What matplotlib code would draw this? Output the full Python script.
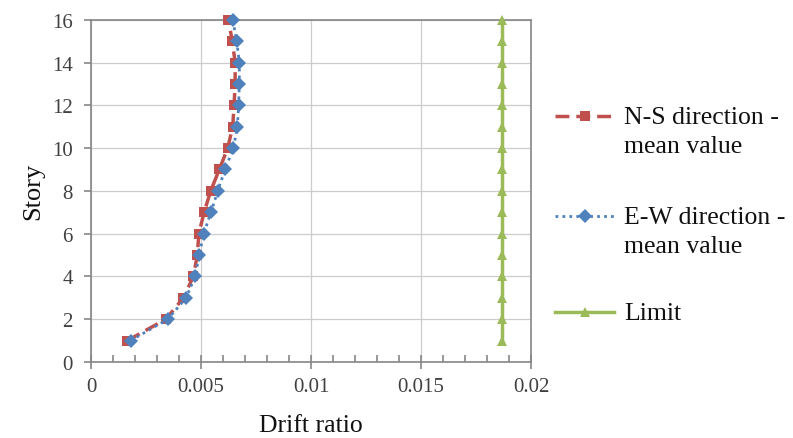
import matplotlib.pyplot as plt
from matplotlib.lines import Line2D
import numpy as np

# story numbers and mean inter-story drift ratios
STORIES = np.arange(1, 17)
NS_DRIFT = [0.00165, 0.0034, 0.0042, 0.00465, 0.00483, 0.00490, 0.00514, 0.00544,
            0.00583, 0.00621, 0.00644, 0.00650, 0.00655, 0.00655, 0.00642, 0.00624]
EW_DRIFT = [0.00180, 0.00349, 0.00432, 0.00473, 0.00492, 0.00512, 0.00545, 0.00576,
            0.00609, 0.00647, 0.00665, 0.00671, 0.00674, 0.00674, 0.00662, 0.00644]
LIMIT = [0.0187] * 16

X_TICKS = [0, 0.005, 0.01, 0.015, 0.02]
X_TICKLABELS = ["0", "0.005", "0.01", "0.015", "0.02"]
X_MINOR = np.arange(0, 21) / 1000
Y_TICKS = list(range(0, 17, 2))

LABELS = ["N-S direction -\nmean value", "E-W direction -\nmean value", "Limit"]

# COLORS
NS_COLOR = "#C0504D"  # RED
EW_COLOR = "#4F81BD"  # BLUE
LIM_COLOR = "#9BBB59"  # GREEN
AXIS_COLOR = "#868686"
GRID_COLOR = "#CCCCCC"

FONT = "Liberation Serif"


def main():
    plt.rcParams["font.family"] = FONT
    fig = plt.figure(figsize=(7.93, 4.39), dpi=100)
    ax = fig.add_axes([0.1148, 0.1731, 0.5549, 0.7797])

    styles = [
        dict(color=NS_COLOR, linestyle=(0, (4, 2)), linewidth=2.5, marker="s", markersize=7.5),
        dict(color=EW_COLOR, linestyle=(0, (1, 1.5)), linewidth=2.0, marker="D", markersize=7.5),
        dict(color=LIM_COLOR, linestyle="-", linewidth=2.5, marker="^", markersize=7),
    ]
    for xs, st in zip([NS_DRIFT, EW_DRIFT, LIMIT], styles):
        ax.plot(xs, STORIES, markeredgewidth=0, clip_on=False, zorder=3, **st)

    ax.set_xlim(0, 0.02)
    ax.set_ylim(0, 16)
    ax.set_xticks(X_TICKS, X_TICKLABELS)
    ax.set_xticks(X_MINOR, minor=True)
    ax.set_yticks(Y_TICKS)
    ax.grid(True, which="major", color=GRID_COLOR, linewidth=0.9)
    ax.set_axisbelow(True)

    for sp in ax.spines.values():
        sp.set_color(AXIS_COLOR)
        sp.set_linewidth(1.2)
    ax.tick_params(axis="x", which="major", direction="inout", length=10, width=1.2,
                   color=AXIS_COLOR, labelsize=15, pad=6, labelcolor="#404040")
    ax.tick_params(axis="x", which="minor", direction="in", length=5, width=1.2,
                   color=AXIS_COLOR)
    ax.tick_params(axis="y", which="major", direction="out", length=5, width=1.2,
                   color=AXIS_COLOR, labelsize=15, pad=8, labelcolor="#404040")

    ax.set_xlabel("Drift ratio", fontsize=18.5, labelpad=13, color="#111111")
    ax.set_ylabel("Story", fontsize=19, labelpad=6, color="#111111")

    # legend entries, handle level with the first label line
    legend_y = [117, 217, 313]
    for st, label, py in zip(styles, LABELS, legend_y):
        yf = 1 - py / 439
        handle = Line2D([555 / 793, 614 / 793], [yf, yf], transform=fig.transFigure,
                        color=st["color"], linestyle=st["linestyle"],
                        linewidth=st["linewidth"])
        fig.add_artist(handle)
        fig.add_artist(Line2D([584.5 / 793], [yf], transform=fig.transFigure,
                              color=st["color"], marker=st["marker"],
                              markersize=st["markersize"], markeredgewidth=0,
                              linestyle="none"))
        fig.text(624 / 793, 1 - (py - 10) / 439, label, fontsize=18.5, va="top",
                 ha="left", color="#111111", linespacing=1.4,
                 transform=fig.transFigure)

    fig.savefig("out.png", dpi=100)


if __name__ == "__main__":
    main()
